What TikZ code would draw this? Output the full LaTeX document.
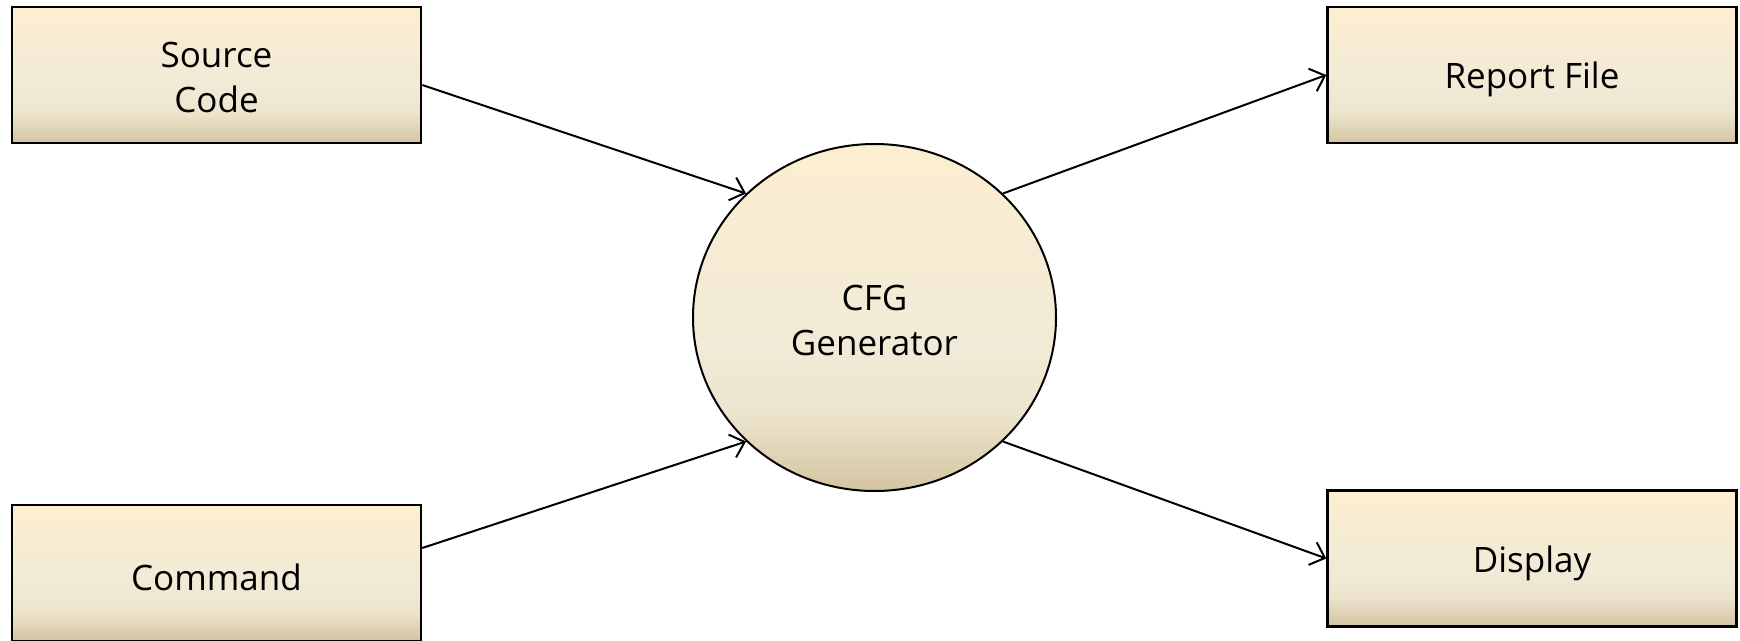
\documentclass[tikz,border=0pt]{standalone}
\usepackage{fontspec}
\setmainfont{Open Sans}
\usetikzlibrary{arrows.meta,shapes.geometric}
\definecolor{ctop}{RGB}{253,238,208}
\definecolor{cmid}{RGB}{240,234,214}
\definecolor{cmidb}{RGB}{236,228,205}
\definecolor{cbot}{RGB}{212,197,160}
\newcommand\droptext[2]{\raisebox{-#1}[\height][\depth]{#2}}
\pgfdeclareverticalshading{creamshade}{100bp}{color(0bp)=(cbot); color(25bp)=(cbot); color(36bp)=(cmidb); color(45bp)=(cmid); color(75bp)=(ctop); color(100bp)=(ctop)}
\tikzset{
  databox/.style={draw=black, line width=2.5pt, shading=creamshade, minimum width=409pt, minimum height=136pt, inner sep=0pt, align=center, font=\fontsize{35}{45}\selectfont},
  procnode/.style={ellipse, draw=black, line width=2pt, shading=creamshade, minimum width=363pt, minimum height=347pt, inner sep=0pt, align=center, font=\fontsize{35}{45}\selectfont},
  flow/.style={line width=2pt, -{Straight Barb[length=13pt,width=24pt,line width=2pt]}}
}
\begin{document}
\begin{tikzpicture}[x=1pt,y=-1pt]
\useasboundingbox (0,0) rectangle (1740,640);
\node[databox] (src) at (216.5,75) {\droptext{2.5pt}{Source}\\\droptext{2.5pt}{Code}};
\node[databox] (cmd) at (216.5,573) {\droptext{4.5pt}{Command}};
\node[databox] (rep) at (1532,75) {\droptext{4.5pt}{Report File}};
\node[databox] (disp) at (1532,558.5) {\droptext{4.5pt}{Display}};
\node[procnode] (cfg) at (874.5,317.5) {\droptext{2.5pt}{CFG}\\\droptext{2.5pt}{Generator}};
\draw[flow] ([yshift=-10pt]src.east) -- (cfg.136.4);
\draw[flow] ([yshift=25pt]cmd.east) -- (cfg.-136.6);
\draw[flow] (cfg.44.3) -- (rep.west);
\draw[flow] (cfg.-44.1) -- (disp.west);
\end{tikzpicture}
\end{document}
